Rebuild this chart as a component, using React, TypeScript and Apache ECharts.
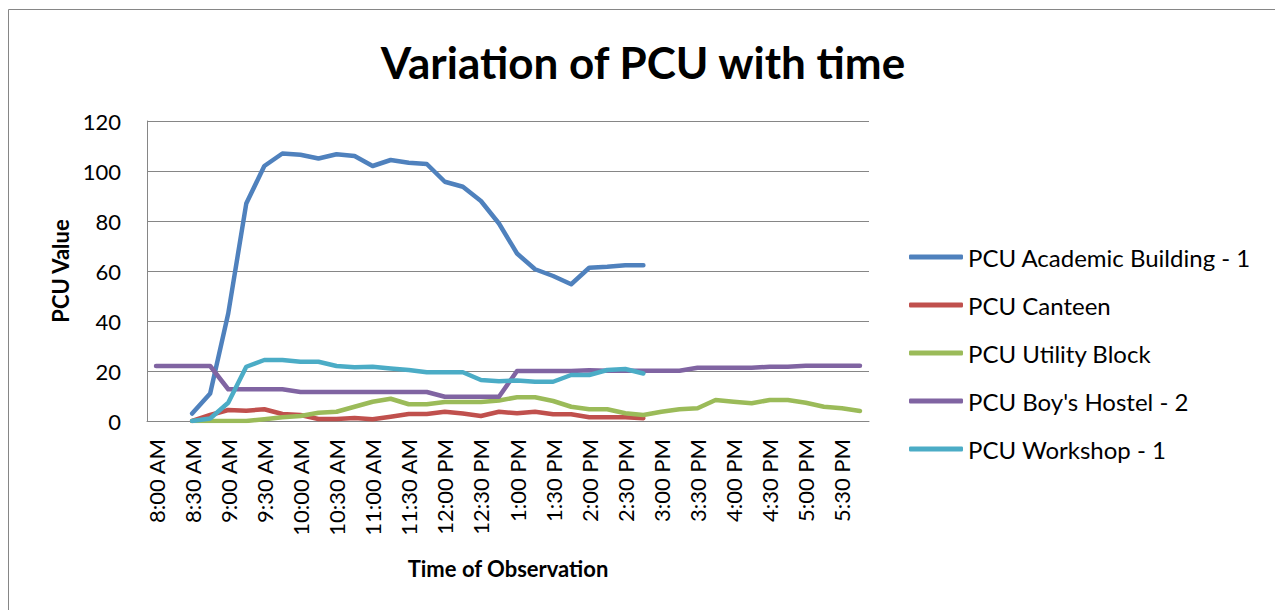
import React, { useEffect, useRef } from "react";
import * as echarts from "echarts";

const makeTimes = (): string[] => {
  const out: string[] = [];
  for (let m = 8 * 60; m <= 17 * 60 + 45; m += 15) {
    const h24 = Math.floor(m / 60);
    const mm = m % 60;
    const ampm = h24 >= 12 ? "PM" : "AM";
    const h = h24 > 12 ? h24 - 12 : h24;
    out.push(`${h}:${mm === 0 ? "00" : mm} ${ampm}`);
  }
  return out;
};
const categories: string[] = makeTimes();

const seriesNames = [
  "PCU Academic Building - 1",
  "PCU Canteen",
  "PCU Utility Block",
  "PCU Boy's Hostel - 2",
  "PCU Workshop - 1",
];

const N = null;
const academic = [N, N, 3, 11, 43, 87, 102, 107, 106.5, 105, 106.7, 106, 102, 104.4, 103.3, 102.8, 95.7, 93.7, 88, 79, 67, 60.7, 58, 54.7, 61.3, 61.7, 62.3, 62.3, N, N, N, N, N, N, N, N, N, N, N, N];
const canteen = [N, N, 0, 2.4, 4.4, 4.1, 4.7, 2.8, 2.4, 0.8, 0.8, 1.2, 0.7, 1.7, 2.8, 2.8, 3.7, 3, 2, 3.7, 3.1, 3.7, 2.7, 2.7, 1.5, 1.5, 1.5, 1.1, N, N, N, N, N, N, N, N, N, N, N, N];
const utility = [N, N, 0, 0, 0, 0, 0.7, 1.5, 2, 3.3, 3.7, 5.7, 7.7, 8.9, 6.7, 6.7, 7.6, 7.6, 7.6, 8.2, 9.5, 9.5, 8, 5.7, 4.7, 4.7, 3.1, 2.4, 3.7, 4.7, 5.1, 8.4, 7.7, 7.1, 8.4, 8.4, 7.3, 5.7, 5.1, 4];
const hostel = [22, 22, 22, 22, 12.7, 12.7, 12.7, 12.7, 11.6, 11.6, 11.6, 11.6, 11.6, 11.6, 11.6, 11.6, 9.7, 9.7, 9.7, 9.7, 20, 20, 20, 20, 20.3, 20.1, 20.1, 20.1, 20.1, 20.1, 21.3, 21.3, 21.3, 21.3, 21.7, 21.7, 22.1, 22.1, 22.1, 22.1];
const workshop = [N, N, 0, 1, 7.3, 21.7, 24.4, 24.4, 23.7, 23.7, 22, 21.5, 21.7, 21, 20.4, 19.5, 19.5, 19.5, 16.4, 15.9, 16.2, 15.7, 15.7, 18.4, 18.4, 20.4, 20.8, 19, N, N, N, N, N, N, N, N, N, N, N, N];

const seriesData = [academic, canteen, utility, hostel, workshop];
const colors = ["#4F81BD", "#C0504D", "#9BBB59", "#8064A2", "#4BACC6"];

const FONT = "Lato, 'Open Sans', sans-serif";

export default function App() {
  const ref = useRef<HTMLDivElement>(null);
  useEffect(() => {
    if (!ref.current) return;
    const chart = echarts.init(ref.current, undefined, { renderer: "svg" });
    chart.setOption({
      animation: false,
      backgroundColor: "#ffffff",
      textStyle: { fontFamily: FONT },
      title: {
        text: "Variation of PCU with time",
        left: 638,
        top: 35,
        textAlign: "center",
        textStyle: { fontFamily: FONT, fontSize: 44, fontWeight: "bold", color: "#000" },
      },
      graphic: [
        {
          type: "rect",
          shape: { x: 8.5, y: 9.5, width: 1400, height: 800 },
          style: { fill: "none", stroke: "#868686", lineWidth: 1 },
          silent: true,
        },
      ],
      legend: {
        orient: "vertical",
        left: 904,
        top: 238,
        itemWidth: 54,
        itemHeight: 5,
        itemGap: 20,
        icon: "roundRect",
        textStyle: { fontFamily: FONT, fontSize: 24, color: "#000", lineHeight: 28 },
        data: seriesNames,
      },
      grid: { left: 147, right: 406, top: 121, bottom: 189, containLabel: false },
      xAxis: {
        type: "category",
        data: categories,
        boundaryGap: true,
        name: "Time of Observation",
        nameLocation: "middle",
        nameGap: 136,
        nameTextStyle: { fontFamily: FONT, fontSize: 22, fontWeight: "bold", color: "#000" },
        axisLine: { show: true, lineStyle: { color: "#868686", width: 1 } },
        axisTick: { show: false },
        axisLabel: {
          interval: 1,
          rotate: 90,
          margin: 18,
          fontFamily: FONT,
          fontSize: 22,
          color: "#000",
        },
        splitLine: { show: false },
      },
      yAxis: {
        type: "value",
        min: 0,
        max: 120,
        interval: 20,
        name: "PCU Value",
        nameLocation: "middle",
        nameGap: 76,
        nameRotate: 90,
        nameTextStyle: { fontFamily: FONT, fontSize: 22, fontWeight: "bold", color: "#000" },
        axisLine: { show: true, lineStyle: { color: "#868686", width: 1 } },
        axisTick: { show: false },
        axisLabel: { margin: 26, fontFamily: FONT, fontSize: 22, color: "#000" },
        splitLine: { show: true, lineStyle: { color: "#868686", width: 1 } },
      },
      series: seriesNames.map((name, i) => ({
        name,
        type: "line",
        data: seriesData[i],
        symbol: "none",
        connectNulls: false,
        color: colors[i],
        itemStyle: { color: colors[i] },
        lineStyle: { color: colors[i], width: 4.5, cap: "round", join: "round" },
      })),
    });
    return () => chart.dispose();
  }, []);
  return (
    <div
      ref={ref}
      style={{ position: "absolute", left: 0, top: 0, width: 1275, height: 610 }}
    />
  );
}
